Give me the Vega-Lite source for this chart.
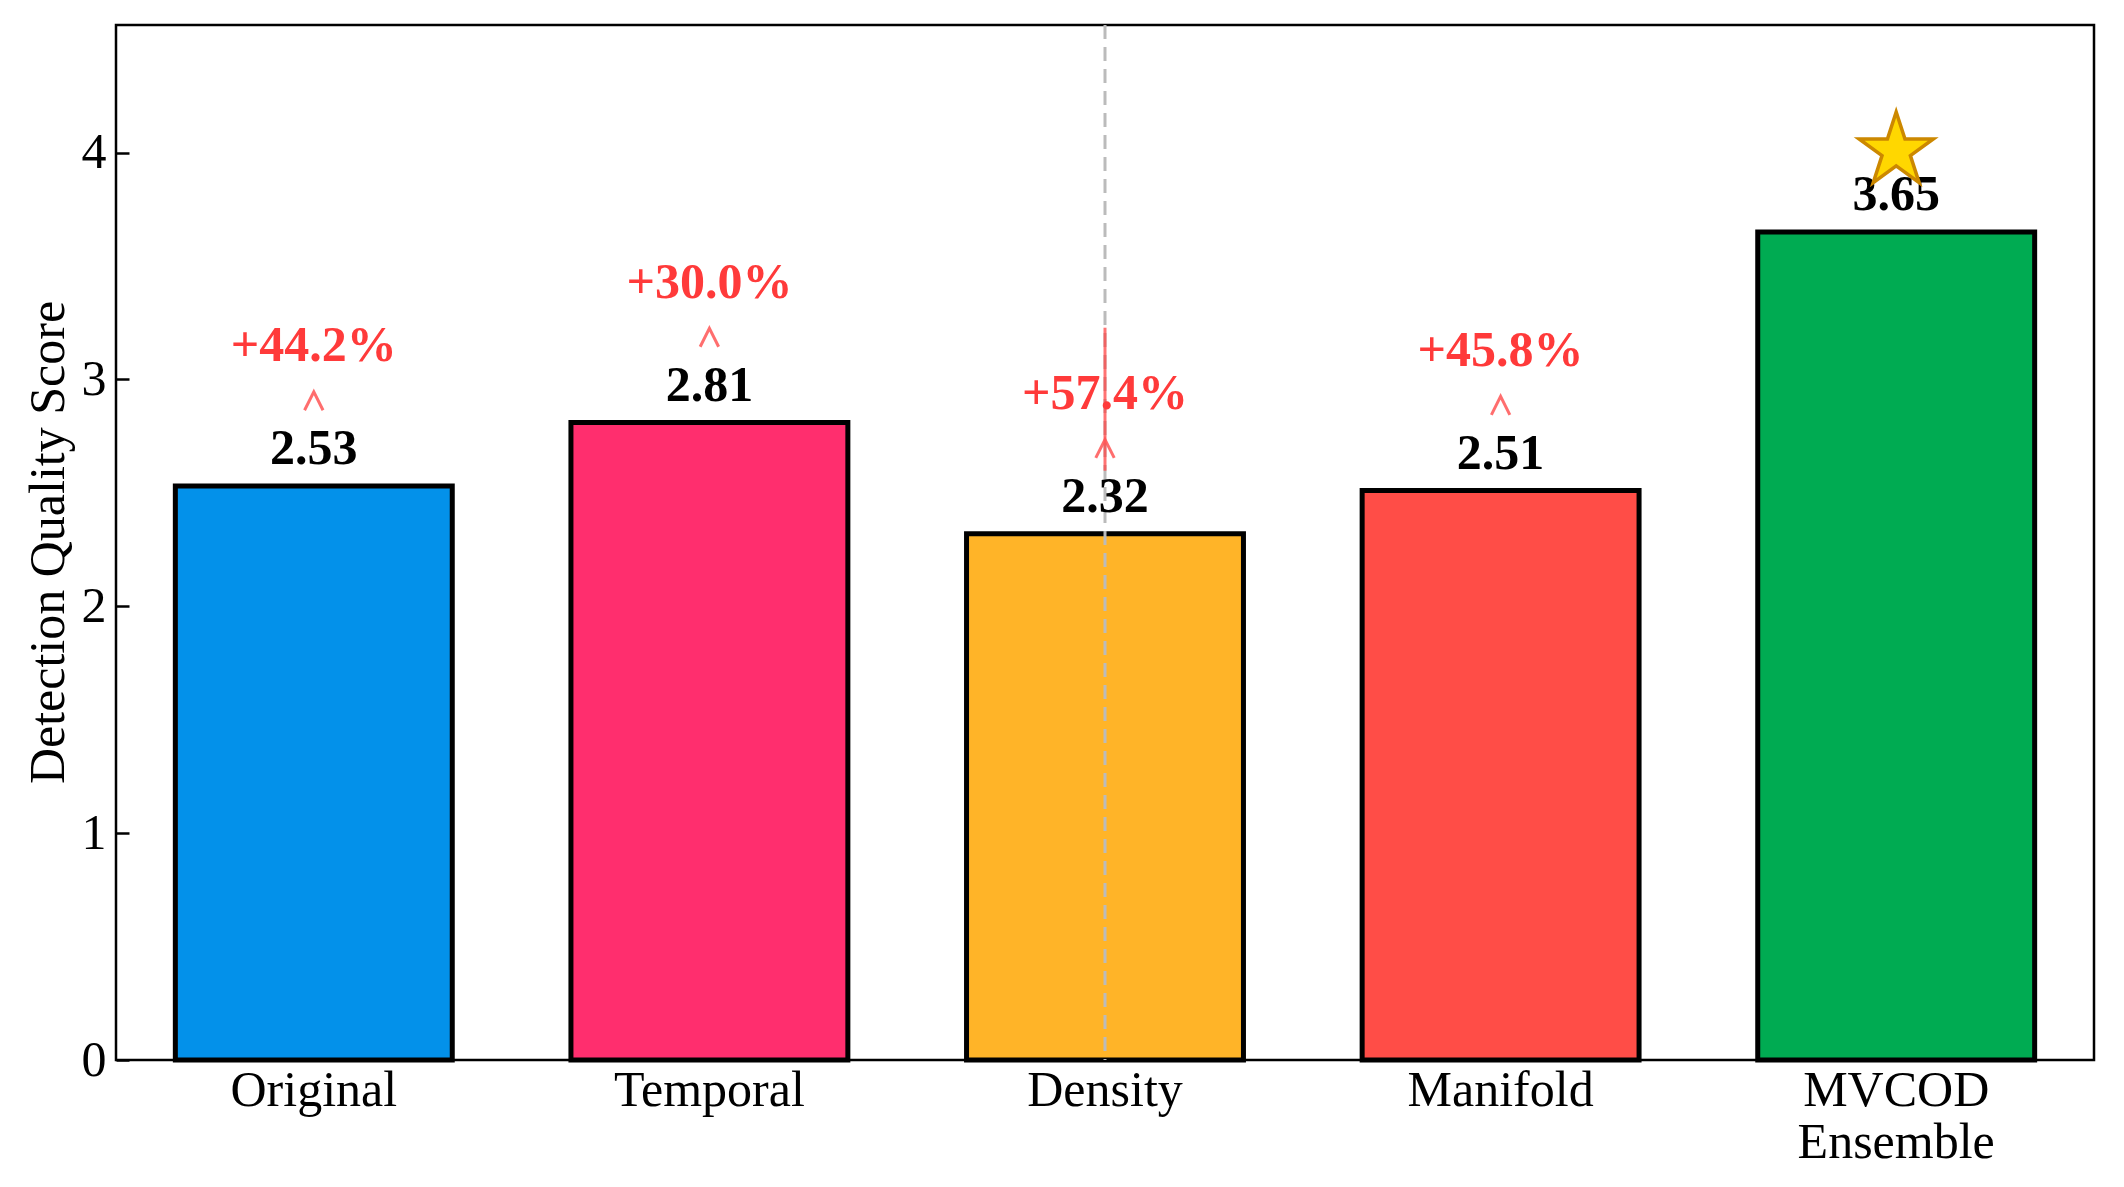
{
  "$schema": "https://vega.github.io/schema/vega-lite/v6.json",
  "width": 1978,
  "height": 1035,
  "autosize": {"type": "none"},
  "padding": {"left": 116, "top": 25, "right": 30, "bottom": 127},
  "background": "white",
  "config": {
    "view": {"stroke": "black", "strokeWidth": 2.5},
    "font": "Liberation Serif"
  },
  "data": {
    "values": [
      {"method": "Original", "score": 2.53, "gain": "+44.2%"},
      {"method": "Temporal", "score": 2.81, "gain": "+30.0%"},
      {"method": "Density", "score": 2.32, "gain": "+57.4%"},
      {"method": "Manifold", "score": 2.51, "gain": "+45.8%"},
      {"method": "MVCOD Ensemble", "score": 3.65, "gain": null}
    ]
  },
  "encoding": {
    "x": {
      "field": "method",
      "type": "nominal",
      "sort": null,
      "scale": {"paddingInner": 0.3, "paddingOuter": 0.15},
      "axis": {
        "orient": "bottom",
        "title": null,
        "labelAngle": 0,
        "labelFont": "Liberation Serif",
        "labelFontSize": 50,
        "labelColor": "black",
        "labelLimit": 0,
        "ticks": false,
        "domain": false,
        "labelPadding": 5,
        "labelLineHeight": 52,
        "labelExpr": "datum.value == 'MVCOD Ensemble' ? ['MVCOD', 'Ensemble'] : datum.label"
      }
    }
  },
  "layer": [
    {
      "mark": {"type": "bar", "stroke": "black", "strokeWidth": 5},
      "encoding": {
        "y": {
          "field": "score",
          "type": "quantitative",
          "scale": {"domain": [0, 4.5625], "nice": false},
          "axis": {
            "orient": "left",
            "title": "Detection Quality Score",
            "titleFont": "Liberation Serif",
            "titleFontSize": 50,
            "titleFontWeight": "normal",
            "titleColor": "black",
            "titleX": -68,
            "titleY": 517,
            "titleBaseline": "middle",
            "titleAngle": -90,
            "values": [0, 1, 2, 3, 4],
            "format": "d",
            "labelFont": "Liberation Serif",
            "labelFontSize": 50,
            "labelColor": "black",
            "tickSize": -13,
            "tickWidth": 2.5,
            "tickColor": "black",
            "labelPadding": 23,
            "domain": false,
            "grid": false
          }
        },
        "color": {
          "field": "method",
          "type": "nominal",
          "scale": {
            "domain": ["Original", "Temporal", "Density", "Manifold", "MVCOD Ensemble"],
            "range": ["#0391ea", "#ff2e6e", "#ffb428", "#ff4d47", "#00ab52"]
          },
          "legend": null
        }
      }
    },
    {
      "transform": [{"filter": "datum.method == 'Density'"}],
      "mark": {"type": "rule", "color": "#bbbbbb", "strokeWidth": 3, "strokeDash": [14, 8]},
      "encoding": {}
    },
    {
      "transform": [{"filter": "datum.method == 'Density'"}],
      "mark": {"type": "rule", "color": "#ff4444", "opacity": 0.75, "strokeWidth": 3, "yOffset": -63, "y2Offset": -206},
      "encoding": {
        "y": {"field": "score", "type": "quantitative"},
        "y2": {"field": "score"}
      }
    },
    {
      "transform": [{"filter": "isValid(datum.gain)"}],
      "mark": {"type": "point", "shape": "M-0.9,0.9L0,-0.9L0.9,0.9", "size": 420, "filled": false, "stroke": "#ff5555", "strokeWidth": 3, "opacity": 0.85, "yOffset": -85},
      "encoding": {
        "y": {"field": "score", "type": "quantitative"}
      }
    },
    {
      "mark": {"type": "text", "font": "Liberation Serif", "fontSize": 50, "fontWeight": "bold", "color": "black", "baseline": "alphabetic", "dy": -22},
      "encoding": {
        "y": {"field": "score", "type": "quantitative"},
        "text": {"field": "score", "type": "quantitative", "format": ".2f"}
      }
    },
    {
      "transform": [{"filter": "isValid(datum.gain)"}],
      "mark": {"type": "text", "font": "Liberation Serif", "fontSize": 50, "fontWeight": "bold", "color": "#ff3a3a", "baseline": "alphabetic", "dy": -125},
      "encoding": {
        "y": {"field": "score", "type": "quantitative"},
        "text": {"field": "gain", "type": "nominal"}
      }
    },
    {
      "transform": [{"filter": "datum.method == 'MVCOD Ensemble'"}],
      "mark": {"type": "point", "shape": "M0,-1L0.2245,-0.309L0.951,-0.309L0.3633,0.118L0.588,0.809L0,0.382L-0.588,0.809L-0.3633,0.118L-0.951,-0.309L-0.2245,-0.309Z", "size": 6100, "filled": true, "fill": "#ffd700", "stroke": "#cc8800", "strokeWidth": 3.5, "opacity": 1, "fillOpacity": 1, "yOffset": -81},
      "encoding": {
        "y": {"field": "score", "type": "quantitative"}
      }
    }
  ]
}
